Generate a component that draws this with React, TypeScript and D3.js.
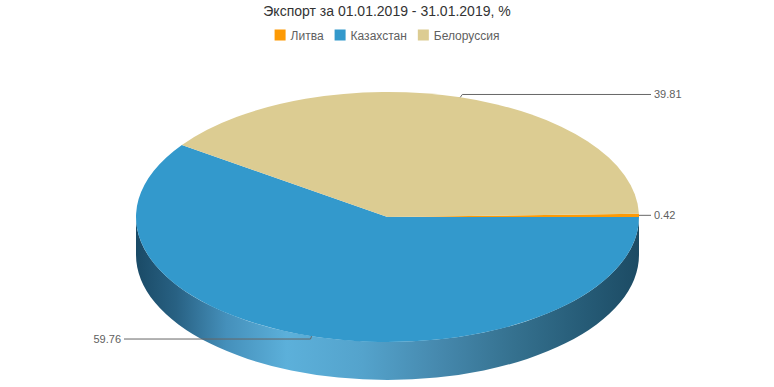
import React, { useEffect, useRef } from "react";
import * as d3 from "d3";

const categories = ["Литва", "Казахстан", "Белоруссия"];
const values = [0.42, 59.76, 39.81];
const valueLabels = ["0.42", "59.76", "39.81"];
const colors = ["#fd9a05", "#3399cc", "#dccc92"];
const titleText = "Экспорт за 01.01.2019 - 31.01.2019, %";

const W = 774;
const H = 387;
const CX = 387.5;
const CY = 217;
const RX = 251.5;
const RY = 125;
const DEPTH = 38;
const START_ANGLE_DEG = 88.49;
const FONT = "'Liberation Sans', Arial, Helvetica, sans-serif";

export default function App() {
  const ref = useRef<SVGSVGElement | null>(null);

  useEffect(() => {
    const svg = d3.select(ref.current);
    svg.selectAll("*").remove();

    const start = (START_ANGLE_DEG * Math.PI) / 180;
    const pie = d3
      .pie<number>()
      .sort(null)
      .value((d) => d)
      .startAngle(start)
      .endAngle(start + 2 * Math.PI);
    const arcs = pie(values);

    // theta: 0 = right, increasing clockwise on screen
    const toTheta = (a: number) => a - Math.PI / 2;
    const pt = (t: number, dy = 0, rx = RX, ry = RY) => [CX + rx * Math.cos(t), CY + ry * Math.sin(t) + dy];

    const defs = svg.append("defs");
    const grad = defs
      .append("linearGradient")
      .attr("id", "sideGrad")
      .attr("gradientUnits", "userSpaceOnUse")
      .attr("x1", CX - RX)
      .attr("x2", CX + RX)
      .attr("y1", 0)
      .attr("y2", 0);
    const stops: [number, string][] = [
      [0, "#1a4a66"],
      [0.08, "#286183"],
      [0.18, "#4590bb"],
      [0.3, "#5cb0da"],
      [0.45, "#54a3cc"],
      [0.6, "#4689ae"],
      [0.75, "#35718f"],
      [0.9, "#255a75"],
      [1, "#1c4b64"],
    ];
    stops.forEach(([o, c]) => grad.append("stop").attr("offset", o).attr("stop-color", c));

    // sides (front half visible: theta in [0, PI] mod 2PI)
    const sideG = svg.append("g");
    arcs.forEach((a, i) => {
      const t0 = toTheta(a.startAngle);
      const t1 = toTheta(a.endAngle);
      [-2 * Math.PI, 0, 2 * Math.PI].forEach((off) => {
        const s = Math.max(t0, off);
        const e = Math.min(t1, off + Math.PI);
        if (e - s <= 1e-6) return;
        const p0 = pt(s);
        const p1 = pt(e);
        const p1b = pt(e, DEPTH);
        const p0b = pt(s, DEPTH);
        const d = `M${p0[0]},${p0[1]} A${RX},${RY} 0 0 1 ${p1[0]},${p1[1]} L${p1b[0]},${p1b[1]} A${RX},${RY} 0 0 0 ${p0b[0]},${p0b[1]} Z`;
        sideG
          .append("path")
          .attr("d", d)
          .attr("fill", i === 1 ? "url(#sideGrad)" : d3.color(colors[i])!.darker(1).toString());
      });
    });

    // top faces
    const topG = svg.append("g");
    arcs.forEach((a, i) => {
      const t0 = toTheta(a.startAngle);
      const t1 = toTheta(a.endAngle);
      const p0 = pt(t0);
      const p1 = pt(t1);
      const large = t1 - t0 > Math.PI ? 1 : 0;
      topG
        .append("path")
        .attr("d", `M${CX},${CY} L${p0[0]},${p0[1]} A${RX},${RY} 0 ${large} 1 ${p1[0]},${p1[1]} Z`)
        .attr("fill", colors[i]);
    });

    // data labels
    const labG = svg.append("g");
    arcs.forEach((a, i) => {
      const tm = toTheta((a.startAngle + a.endAngle) / 2);
      const [ax, ay] = pt(tm);
      const ly = CY + 128 * Math.sin(tm);
      const right = Math.cos(tm) >= 0;
      const lineEnd = right ? CX + RX + 12 : CX - RX - 12;
      const textX = right ? CX + RX + 15 : CX - RX - 15;
      const hx = right ? ax + 2 : ax - 1;
      labG
        .append("path")
        .attr("d", `M${ax},${ay} L${hx},${ly} L${lineEnd},${ly}`)
        .attr("fill", "none")
        .attr("stroke", "#666666")
        .attr("stroke-width", 1);
      labG
        .append("text")
        .attr("x", textX)
        .attr("y", ly)
        .attr("dy", "0.35em")
        .attr("text-anchor", right ? "start" : "end")
        .attr("font-family", FONT)
        .attr("font-size", 11)
        .attr("fill", "#606060")
        .text(valueLabels[i]);
    });

    // title
    svg
      .append("text")
      .attr("x", W / 2)
      .attr("y", 16)
      .attr("text-anchor", "middle")
      .attr("font-family", FONT)
      .attr("font-size", 14)
      .attr("fill", "#333333")
      .text(titleText);

    // legend
    const legG = svg.append("g");
    const items: { g: any; w: number }[] = [];
    categories.forEach((c, i) => {
      const g = legG.append("g");
      g.append("rect").attr("x", 0).attr("y", 29.5).attr("width", 11).attr("height", 11).attr("fill", colors[i]);
      const t = g
        .append("text")
        .attr("x", 16)
        .attr("y", 39.5)
        .attr("font-family", FONT)
        .attr("font-size", 12)
        .attr("fill", "#606060")
        .text(c);
      const tw = (t.node() as SVGTextElement).getComputedTextLength();
      items.push({ g, w: 16 + tw });
    });
    const gap = 11;
    const total = items.reduce((s, it) => s + it.w, 0) + gap * (items.length - 1);
    let x = W / 2 - total / 2;
    items.forEach((it) => {
      it.g.attr("transform", `translate(${x},0)`);
      x += it.w + gap;
    });
  }, []);

  return (
    <svg
      ref={ref}
      width={W}
      height={H}
      style={{ position: "fixed", left: 0, top: 0, background: "#ffffff" }}
    />
  );
}
